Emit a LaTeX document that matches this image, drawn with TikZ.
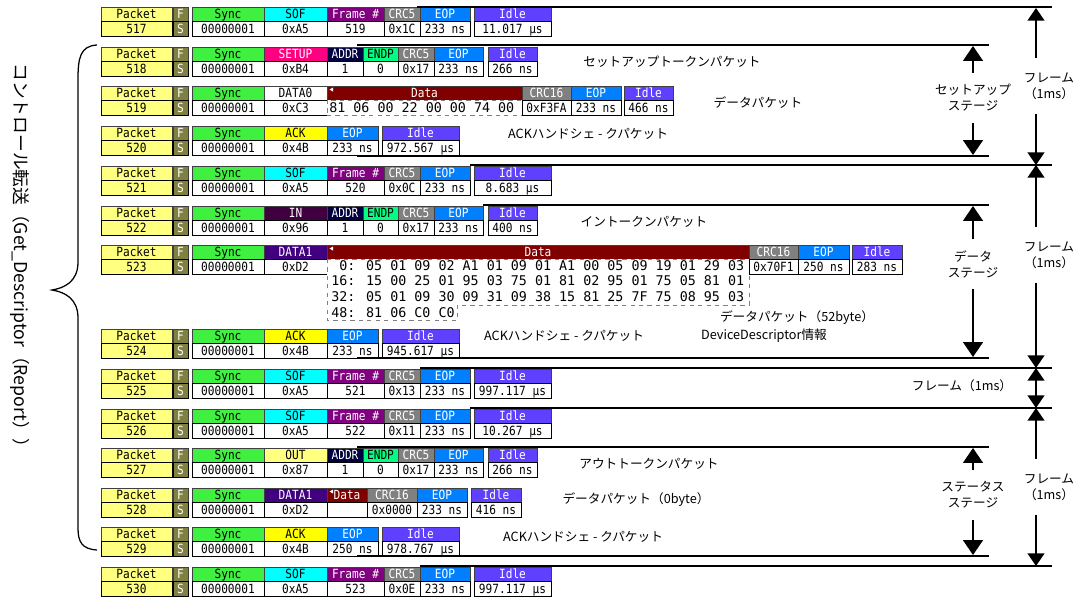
\documentclass[tikz,border=0pt]{standalone}
\usepackage{fontspec}
\setmainfont{Noto Sans CJK JP}
\newfontfamily\cellfont[FakeStretch=0.88]{DejaVu Sans Mono}
\newfontfamily\datafont{DejaVu Sans Mono}
\usetikzlibrary{arrows.meta}
\definecolor{usbpkt}{RGB}{255,255,128}
\definecolor{usbfs}{RGB}{128,128,64}
\definecolor{usbsync}{RGB}{64,240,64}
\definecolor{usbsof}{RGB}{0,255,255}
\definecolor{usbframe}{RGB}{128,0,128}
\definecolor{usbcrc}{RGB}{128,128,128}
\definecolor{usbeop}{RGB}{0,128,255}
\definecolor{usbidle}{RGB}{96,64,255}
\definecolor{usbsetup}{RGB}{255,0,128}
\definecolor{usbaddr}{RGB}{0,0,64}
\definecolor{usbendp}{RGB}{0,255,128}
\definecolor{usbdata1}{RGB}{64,0,128}
\definecolor{usbdata}{RGB}{128,0,0}
\definecolor{usback}{RGB}{255,255,0}
\definecolor{usbin}{RGB}{64,0,64}
\definecolor{usbout}{RGB}{255,255,128}
\definecolor{usbline}{RGB}{64,64,64}
% one field: name, x from, x to, row top, fill, text colour, header, value
\newcommand{\usbfield}[8]{%
  \node[fldhead,fill=#5,text=#6,minimum width={(#3-#2)*0.025cm}] (#1h) at ({(#2+#3)/2},{#4+7}) {#7};
  \node[fldval,minimum width={(#3-#2)*0.025cm}] (#1v) at ({(#2+#3)/2},{#4+21.5}) {#8};}
% packet number, F/S and sync
\newcommand{\pktcell}[2]{%
  \node[fldhead,fill=usbpkt,minimum width=1.775cm] (p#1h) at (136.5,{#2+7}) {Packet};
  \node[fldval,fill=usbpkt,minimum width=1.775cm] (p#1v) at (136.5,{#2+21.5}) {#1};
  \node[fldhead,fill=usbfs,text=white,minimum width=0.375cm] (fs#1h) at (180.5,{#2+7}) {F};
  \node[fldval,fill=usbfs,text=white,minimum width=0.375cm] (fs#1v) at (180.5,{#2+21.5}) {S};
  \usbfield{sy#1}{192}{264}{#2}{usbsync}{black}{Sync}{00000001}}
% SOF packet: no, top, frame, crc, idle
\newcommand{\sofrow}[5]{%
  \pktcell{#1}{#2}
  \usbfield{pid#1}{264}{327}{#2}{usbsof}{black}{SOF}{0xA5}
  \usbfield{fn#1}{327}{384}{#2}{usbframe}{white}{Frame \#}{#3}
  \usbfield{crc#1}{384}{420}{#2}{usbcrc}{white}{CRC5}{#4}
  \usbfield{eop#1}{420}{470}{#2}{usbeop}{white}{EOP}{233 ns}
  \usbfield{idle#1}{474}{551}{#2}{usbidle}{white}{Idle}{#5}}
% token packet: no, top, pid, pid fill, pid text, pid value, idle
\newcommand{\tokenrow}[7]{%
  \pktcell{#1}{#2}
  \usbfield{pid#1}{264}{327}{#2}{#4}{#5}{#3}{#6}
  \usbfield{ad#1}{327}{363}{#2}{usbaddr}{white}{ADDR}{1}
  \usbfield{ep#1}{363}{398}{#2}{usbendp}{black}{ENDP}{0}
  \usbfield{crc#1}{398}{434}{#2}{usbcrc}{white}{CRC5}{0x17}
  \usbfield{eop#1}{434}{483}{#2}{usbeop}{white}{EOP}{233 ns}
  \usbfield{idle#1}{488}{537}{#2}{usbidle}{white}{Idle}{#7}}
% handshake packet: no, top, eop, idle
\newcommand{\ackrow}[4]{%
  \pktcell{#1}{#2}
  \usbfield{pid#1}{264}{327}{#2}{usback}{black}{ACK}{0x4B}
  \usbfield{eop#1}{327}{378}{#2}{usbeop}{white}{EOP}{#3}
  \usbfield{idle#1}{382}{459}{#2}{usbidle}{white}{Idle}{#4}}

\begin{document}
\begin{tikzpicture}[x=0.025cm,y=-0.025cm,
  fldhead/.style={draw=usbline,line width=0.6pt,inner sep=0pt,outer sep=0pt,minimum height=0.35cm,
    font=\cellfont\fontsize{9}{10}\selectfont,text height=6.6pt,text depth=0pt},
  fldval/.style={fldhead,draw=black,fill=white,minimum height=0.375cm},
  datatext/.style={inner sep=0pt,font=\datafont\fontsize{9.5}{11.1}\selectfont},
  datadash/.style={draw=gray,dashed,fill=white,line width=0.6pt},
  framerule/.style={line width=1.4pt},
  jplabel/.style={font=\fontsize{9}{11.4}\selectfont,inner sep=1pt},
  stagelbl/.style={jplabel,align=center,inner xsep=2pt,inner ysep=8pt},
  framelbl/.style={jplabel,align=center,inner xsep=2pt,inner ysep=10pt},
  stagearrow/.style={-{Triangle[width=14pt,length=10.5pt]},line width=1.1pt},
  framearrow/.style={-{Triangle[width=12pt,length=9pt]},line width=1.1pt}
]
  \useasboundingbox (0,0) rectangle (1086,599);
  % Packets 517-522
  \sofrow{517}{7}{519}{0x1C}{11.017 µs}
  \tokenrow{518}{47}{SETUP}{usbsetup}{white}{0xB4}{266 ns}
  \pktcell{519}{86}
  \usbfield{pid519}{264}{327}{86}{white}{black}{DATA0}{0xC3}
  \node[fldhead,fill=usbdata,text=white,minimum width=4.875cm] (dat519h) at (424.5,93) {Data};
  \node[fldval,datadash,minimum width=4.875cm] (dat519v) at (424.5,107.5) {};
  \node[datatext,anchor=west] (dat519t) at (329,107.5) {81 06 00 22 00 00 74 00};
  \usbfield{crc519}{522}{571}{86}{usbcrc}{white}{CRC16}{0xF3FA}
  \usbfield{eop519}{571}{621}{86}{usbeop}{white}{EOP}{233 ns}
  \usbfield{idle519}{624}{673}{86}{usbidle}{white}{Idle}{466 ns}
  \ackrow{520}{126}{233 ns}{972.567 µs}
  \sofrow{521}{166}{520}{0x0C}{8.683 µs}
  \tokenrow{522}{206}{IN}{usbin}{white}{0x96}{400 ns}
  % Packet 523: descriptor data
  \pktcell{523}{245}
  \usbfield{pid523}{264}{327}{245}{usbdata1}{white}{DATA1}{0xD2}
  \node[fldhead,fill=usbdata,text=white,minimum width=10.55cm] (dat523h) at (538,252) {Data};
  \filldraw[datadash] (327,259) -- (749,259) -- (749,305) -- (457,305) -- (457,320) -- (327,320) -- cycle;
  \node[datatext,anchor=north west,align=left] (dat523t) at (331,260) {%
    \hphantom{1}0: 05 01 09 02 A1 01 09 01 A1 00 05 09 19 01 29 03\\
    16: 15 00 25 01 95 03 75 01 81 02 95 01 75 05 81 01\\
    32: 05 01 09 30 09 31 09 38 15 81 25 7F 75 08 95 03\\
    48: 81 06 C0 C0};
  \usbfield{crc523}{749}{798}{245}{usbcrc}{white}{CRC16}{0x70F1}
  \usbfield{eop523}{798}{849}{245}{usbeop}{white}{EOP}{250 ns}
  \usbfield{idle523}{852}{902}{245}{usbidle}{white}{Idle}{283 ns}
  % Packets 524-530
  \ackrow{524}{329}{233 ns}{945.617 µs}
  \sofrow{525}{369}{521}{0x13}{997.117 µs}
  \sofrow{526}{409}{522}{0x11}{10.267 µs}
  \tokenrow{527}{448}{OUT}{usbout}{black}{0x87}{266 ns}
  \pktcell{528}{488}
  \usbfield{pid528}{264}{327}{488}{usbdata1}{white}{DATA1}{0xD2}
  \usbfield{dat528}{327}{367}{488}{usbdata}{white}{Data}{}
  \usbfield{crc528}{367}{417}{488}{usbcrc}{white}{CRC16}{0x0000}
  \usbfield{eop528}{417}{467}{488}{usbeop}{white}{EOP}{233 ns}
  \usbfield{idle528}{471}{521}{488}{usbidle}{white}{Idle}{416 ns}
  \ackrow{529}{527}{250 ns}{978.767 µs}
  \sofrow{530}{567}{523}{0x0E}{997.117 µs}
  % small marks in the Data headers
  \foreach \t in {86,245,488}
    \fill[white] (329.5,{\t+3.5}) -- (333,{\t+1.5}) -- (333,{\t+5.5}) -- cycle;
  % Frame and stage rules
  \draw[framerule] (417,7) -- (1052,7);
  \draw[framerule] (470,165) -- (1052,165);
  \draw[framerule] (420,368) -- (1052,368);
  \draw[framerule] (470,408) -- (1052,408);
  \draw[framerule] (420,566) -- (1052,566);
  \draw[framerule] (357,45) -- (989,45);
  \draw[framerule] (357,156) -- (989,156);
  \draw[framerule] (483,205) -- (989,205);
  \draw[framerule] (357,358) -- (989,358);
  \draw[framerule] (357,447) -- (989,447);
  \draw[framerule] (357,556) -- (989,556);
  % Packet descriptions
  \node[jplabel] (lblsetup) at (672,62) {セットアップトークンパケット};
  \node[jplabel] (lbldata0) at (758,103) {データパケット};
  \node[jplabel] (lblack1) at (588,134) {ACKハンドシェ - クパケット};
  \node[jplabel] (lblin) at (644,222) {イントークンパケット};
  \node[jplabel] (lbldata1) at (797,318) {データパケット（52byte）};
  \node[jplabel] (lbldesc) at (764,336) {DeviceDescriptor情報};
  \node[jplabel] (lblack2) at (564,336) {ACKハンドシェ - クパケット};
  \node[jplabel] (lblout) at (649,464) {アウトトークンパケット};
  \node[jplabel] (lbldata2) at (636,500) {データパケット（0byte）};
  \node[jplabel] (lblack3) at (583,537) {ACKハンドシェ - クパケット};
  % Stage arrows
  \coordinate (s1t) at (973,46);
  \coordinate (s1b) at (973,155);
  \coordinate (s2t) at (973,206);
  \coordinate (s2b) at (973,357);
  \coordinate (s3t) at (973,448);
  \coordinate (s3b) at (973,555);
  \node[stagelbl] (stg1) at (973,98) {セットアップ\\ステージ};
  \node[stagelbl] (stg2) at (973,264) {データ\\ステージ};
  \node[stagelbl] (stg3) at (973,495) {ステータス\\ステージ};
  \draw[stagearrow] (stg1) -- (s1t);
  \draw[stagearrow] (stg1) -- (s1b);
  \draw[stagearrow] (stg2) -- (s2t);
  \draw[stagearrow] (stg2) -- (s2b);
  \draw[stagearrow] (stg3) -- (s3t);
  \draw[stagearrow] (stg3) -- (s3b);
  % Frame arrows
  \coordinate (f0) at (1036,8);
  \coordinate (f1) at (1036,165);
  \coordinate (f2) at (1036,368);
  \coordinate (f3) at (1036,408);
  \coordinate (f4) at (1036,566);
  \node[framelbl] (frm1) at (1049,86) {フレーム\\（1ms）};
  \node[framelbl] (frm2) at (1049,255) {フレーム\\（1ms）};
  \node[jplabel] (frm3) at (962,386) {フレーム（1ms）};
  \node[framelbl] (frm4) at (1049,487) {フレーム\\（1ms）};
  \draw[framearrow] (f0 |- frm1.north) -- (f0);
  \draw[framearrow] (f1 |- frm1.south) -- (f1);
  \draw[framearrow] (f1 |- frm2.north) -- (f1);
  \draw[framearrow] (f2 |- frm2.south) -- (f2);
  \draw[framearrow,{Triangle[width=12pt,length=9pt]}-{Triangle[width=12pt,length=9pt]}] (f2) -- (f3);
  \draw[framearrow] (f3 |- frm4.north) -- (f3);
  \draw[framearrow] (f4 |- frm4.south) -- (f4);
  % Brace and title of the transfer
  \draw[line width=0.9pt] (97,45) .. controls (80,46) and (78,58) .. (78,80) -- (78,262)
    .. controls (78,282) and (64,288) .. (52,290) .. controls (64,292) and (78,298) .. (78,318)
    -- (78,528) .. controls (78,542) and (82,549) .. (97,550);
  \node[rotate=-90,font=\fontsize{12.6}{14}\selectfont] (ctrltitle) at (20,260)
    {コントロール転送（Get\_Descriptor（Report））};
\end{tikzpicture}
\end{document}
